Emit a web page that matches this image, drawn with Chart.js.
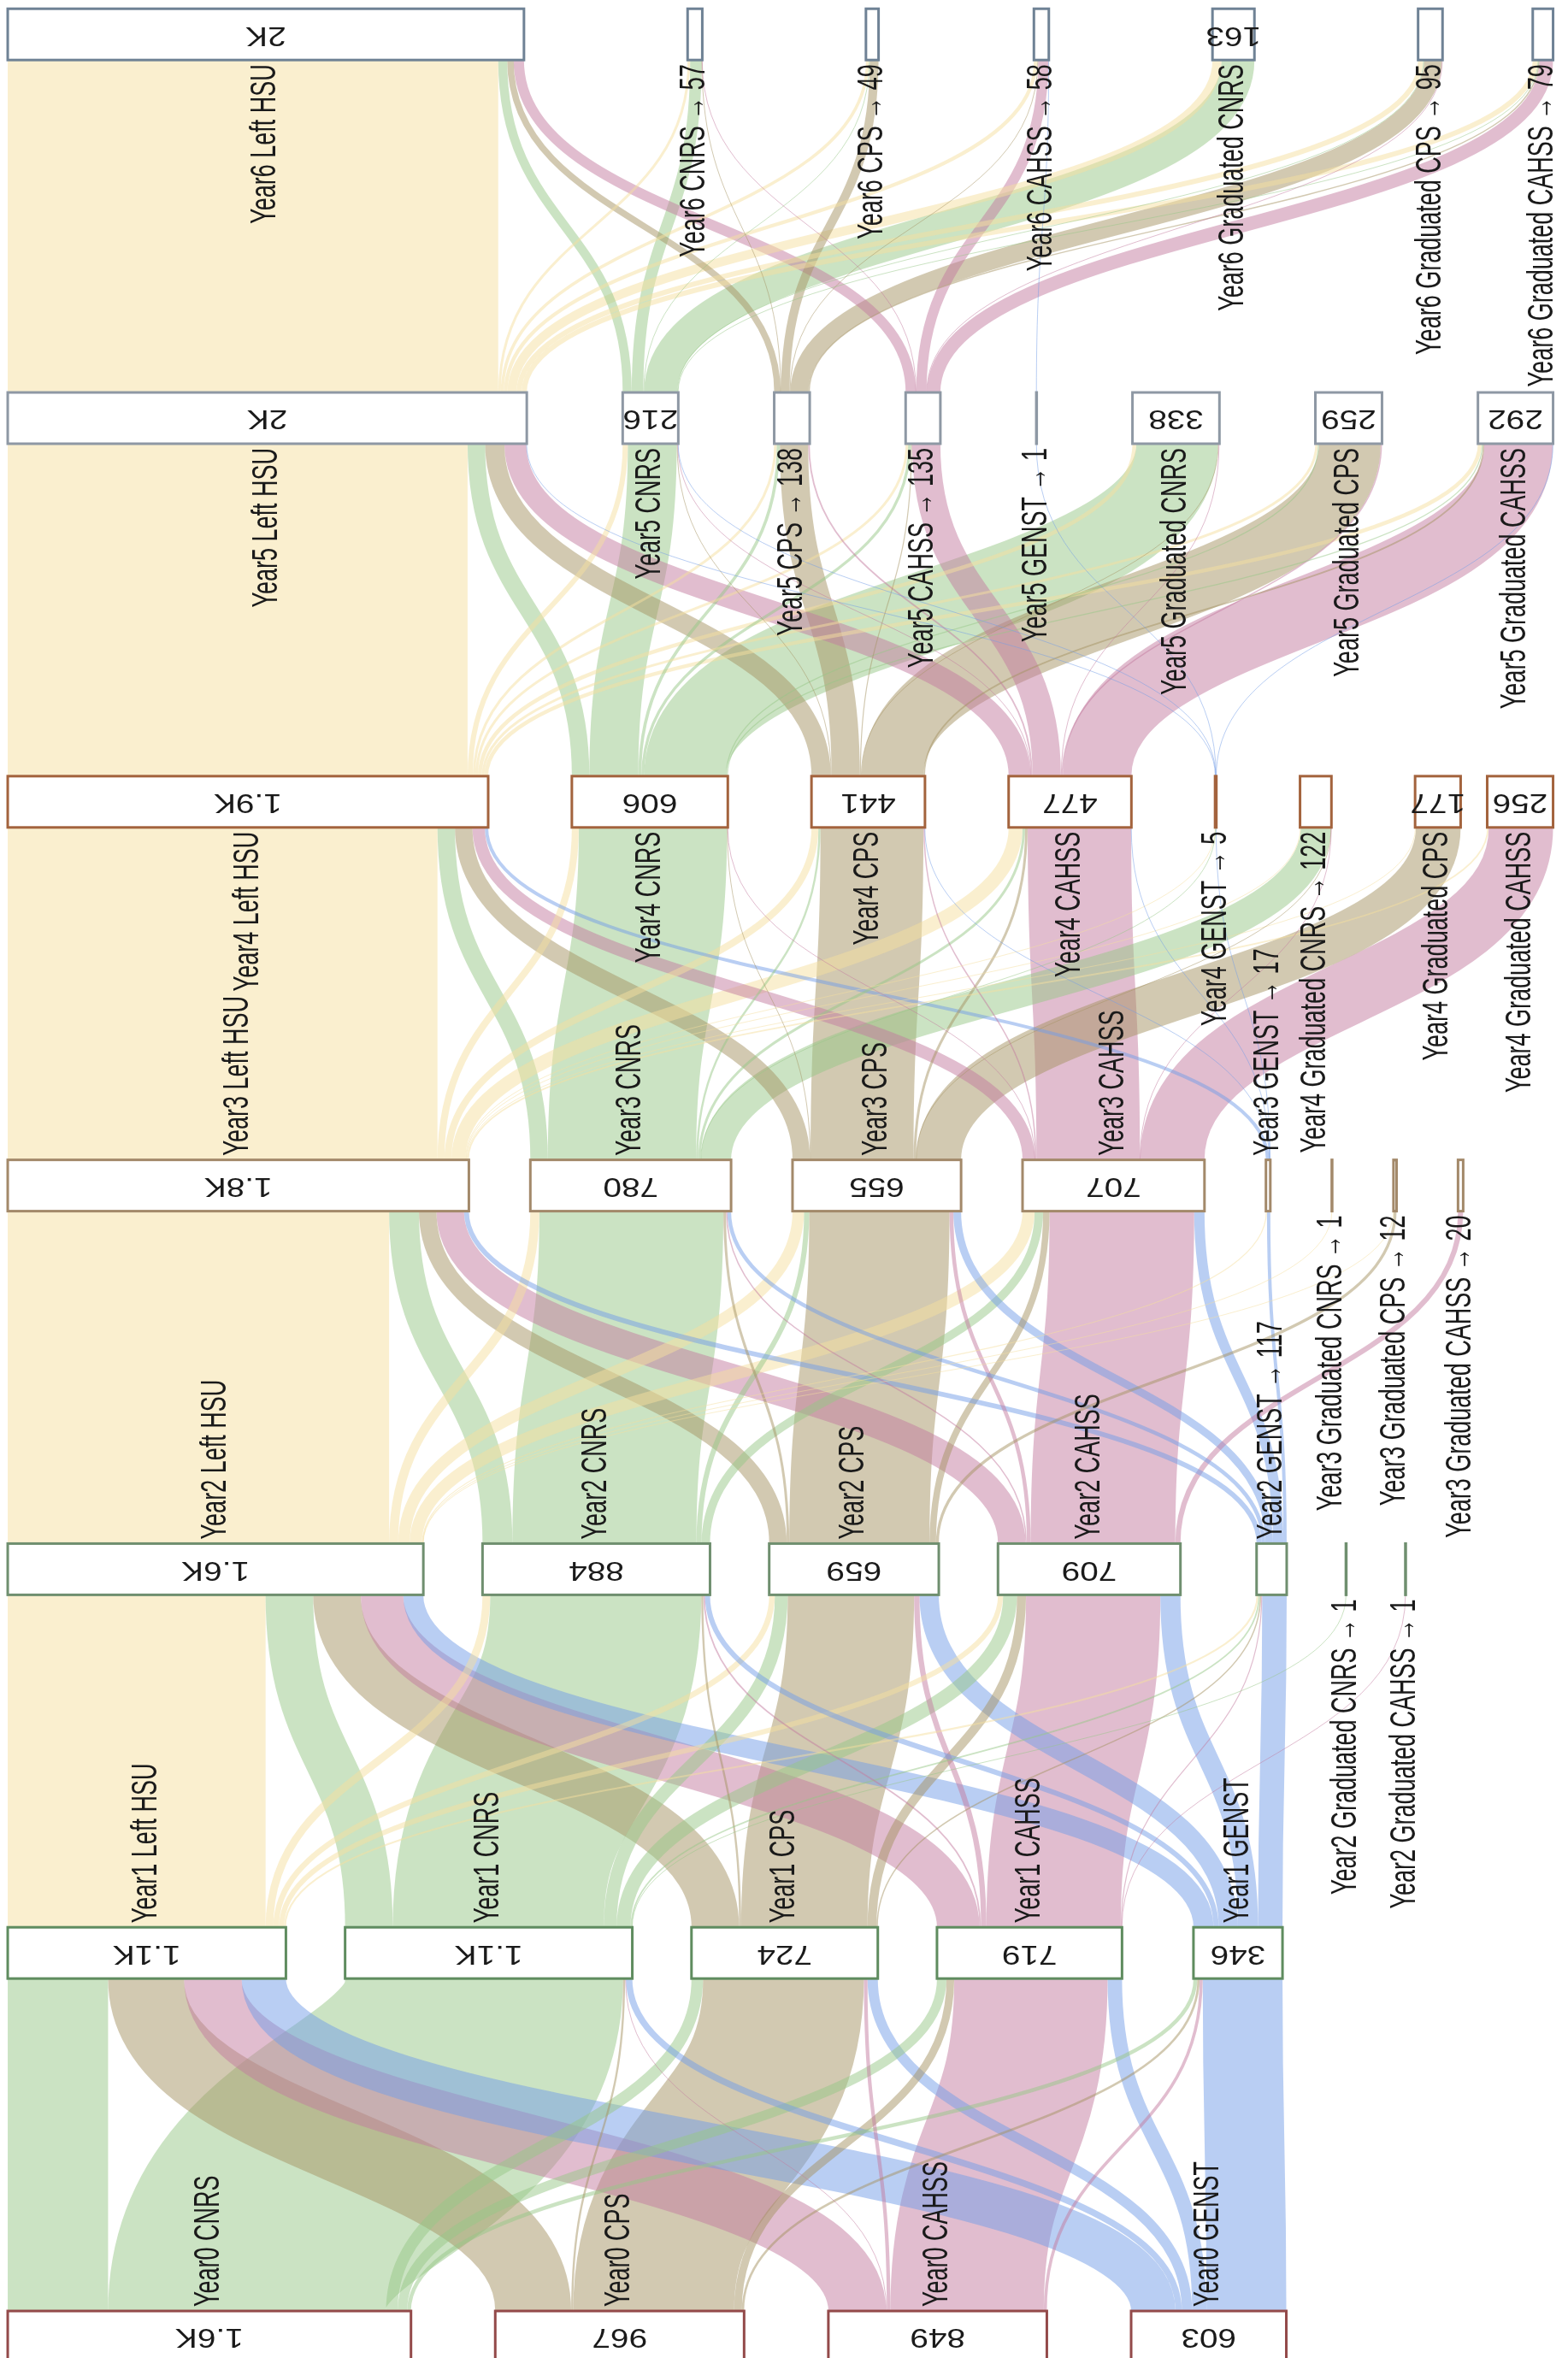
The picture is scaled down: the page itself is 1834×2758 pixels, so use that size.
<!DOCTYPE html>
<html>
<head>
<meta charset="utf-8">
<script src="https://cdn.jsdelivr.net/npm/chart.js@4.4.1/dist/chart.umd.min.js"></script>
<style>
  html, body { margin: 0; padding: 0; background: #ffffff; }
  #wrap { width: 1834px; height: 2758px; position: relative; }
</style>
</head>
<body>
<div id="wrap"><canvas id="chart"></canvas></div>
<script>
// ---------------- DATA ----------------
const levels = ['Year0', 'Year1', 'Year2', 'Year3', 'Year4', 'Year5', 'Year6'];
const categories = ['Left HSU', 'CNRS', 'CPS', 'CAHSS', 'GENST', 'Graduated CNRS', 'Graduated CPS', 'Graduated CAHSS'];

// node totals per year, in category order (null = no node)
const year0Values = [null, 1567, 967, 849, 603, null, null, null];
const year1Values = [1081, 1116, 724, 719, 346, null, null, null];
const year2Values = [1615, 884, 659, 709, 117, 1, null, 1];
const year3Values = [1792, 780, 655, 707, 17, 1, 12, 20];
const year4Values = [1867, 606, 441, 477, 5, 122, 177, 256];
const year5Values = [2017, 216, 138, 135, 1, 338, 259, 292];
const year6Values = [2006, 57, 49, 58, null, 163, 95, 79];

// flows [source category, target category, students]
const flowsYear0to1 = [
  ['CNRS', 'Left HSU', 390], ['CNRS', 'CNRS', 1080], ['CNRS', 'CPS', 45], ['CNRS', 'CAHSS', 37], ['CNRS', 'GENST', 15],
  ['CPS', 'Left HSU', 295], ['CPS', 'CNRS', 8], ['CPS', 'CPS', 625], ['CPS', 'CAHSS', 30], ['CPS', 'GENST', 9],
  ['CAHSS', 'Left HSU', 224], ['CAHSS', 'CNRS', 3], ['CAHSS', 'CPS', 14], ['CAHSS', 'CAHSS', 596], ['CAHSS', 'GENST', 12],
  ['GENST', 'Left HSU', 172], ['GENST', 'CNRS', 25], ['GENST', 'CPS', 40], ['GENST', 'CAHSS', 56], ['GENST', 'GENST', 310]
];
const flowsYear1to2 = [
  ['Left HSU', 'Left HSU', 1002], ['Left HSU', 'CNRS', 30], ['Left HSU', 'CPS', 22], ['Left HSU', 'CAHSS', 20], ['Left HSU', 'GENST', 7],
  ['CNRS', 'Left HSU', 185], ['CNRS', 'CNRS', 820], ['CNRS', 'CPS', 50], ['CNRS', 'CAHSS', 54], ['CNRS', 'GENST', 6], ['CNRS', 'Graduated CNRS', 1],
  ['CPS', 'Left HSU', 185], ['CPS', 'CNRS', 8], ['CPS', 'CPS', 491], ['CPS', 'CAHSS', 35], ['CPS', 'GENST', 5],
  ['CAHSS', 'Left HSU', 165], ['CAHSS', 'CNRS', 6], ['CAHSS', 'CPS', 21], ['CAHSS', 'CAHSS', 522], ['CAHSS', 'GENST', 4], ['CAHSS', 'Graduated CAHSS', 1],
  ['GENST', 'Left HSU', 78], ['GENST', 'CNRS', 20], ['GENST', 'CPS', 75], ['GENST', 'CAHSS', 78], ['GENST', 'GENST', 95]
];
const flowsYear2to3 = [
  ['Left HSU', 'Left HSU', 1482], ['Left HSU', 'CNRS', 35], ['Left HSU', 'CPS', 45], ['Left HSU', 'CAHSS', 47], ['Left HSU', 'GENST', 4], ['Left HSU', 'Graduated CNRS', 1], ['Left HSU', 'Graduated CPS', 1],
  ['CNRS', 'Left HSU', 116], ['CNRS', 'CNRS', 715], ['CNRS', 'CPS', 20], ['CNRS', 'CAHSS', 33],
  ['CPS', 'Left HSU', 68], ['CPS', 'CNRS', 10], ['CPS', 'CPS', 545], ['CPS', 'CAHSS', 25], ['CPS', 'Graduated CPS', 11],
  ['CAHSS', 'Left HSU', 107], ['CAHSS', 'CNRS', 5], ['CAHSS', 'CPS', 15], ['CAHSS', 'CAHSS', 562], ['CAHSS', 'Graduated CAHSS', 20],
  ['GENST', 'Left HSU', 19], ['GENST', 'CNRS', 15], ['GENST', 'CPS', 30], ['GENST', 'CAHSS', 40], ['GENST', 'GENST', 13]
];
const flowsYear3to4 = [
  ['Left HSU', 'Left HSU', 1670], ['Left HSU', 'CNRS', 27], ['Left HSU', 'CPS', 27], ['Left HSU', 'CAHSS', 54], ['Left HSU', 'GENST', 2], ['Left HSU', 'Graduated CNRS', 3], ['Left HSU', 'Graduated CPS', 3], ['Left HSU', 'Graduated CAHSS', 6],
  ['CNRS', 'Left HSU', 68], ['CNRS', 'CNRS', 576], ['CNRS', 'CPS', 8], ['CNRS', 'CAHSS', 10], ['CNRS', 'GENST', 1], ['CNRS', 'Graduated CNRS', 117],
  ['CPS', 'Left HSU', 68], ['CPS', 'CNRS', 2], ['CPS', 'CPS', 400], ['CPS', 'CAHSS', 10], ['CPS', 'Graduated CNRS', 1], ['CPS', 'Graduated CPS', 174],
  ['CAHSS', 'Left HSU', 48], ['CAHSS', 'CNRS', 1], ['CAHSS', 'CPS', 5], ['CAHSS', 'CAHSS', 402], ['CAHSS', 'Graduated CNRS', 1], ['CAHSS', 'Graduated CAHSS', 250],
  ['GENST', 'Left HSU', 13], ['GENST', 'CPS', 1], ['GENST', 'CAHSS', 1], ['GENST', 'GENST', 2]
];
const flowsYear4to5 = [
  ['Left HSU', 'Left HSU', 1787], ['Left HSU', 'CNRS', 20], ['Left HSU', 'CPS', 10], ['Left HSU', 'CAHSS', 10], ['Left HSU', 'Graduated CNRS', 15], ['Left HSU', 'Graduated CPS', 10], ['Left HSU', 'Graduated CAHSS', 15],
  ['CNRS', 'Left HSU', 68], ['CNRS', 'CNRS', 190], ['CNRS', 'CPS', 12], ['CNRS', 'CAHSS', 11], ['CNRS', 'Graduated CNRS', 317], ['CNRS', 'Graduated CPS', 4], ['CNRS', 'Graduated CAHSS', 4],
  ['CPS', 'Left HSU', 75], ['CPS', 'CNRS', 3], ['CPS', 'CPS', 110], ['CPS', 'CAHSS', 4], ['CPS', 'Graduated CNRS', 3], ['CPS', 'Graduated CPS', 240], ['CPS', 'Graduated CAHSS', 6],
  ['CAHSS', 'Left HSU', 85], ['CAHSS', 'CNRS', 2], ['CAHSS', 'CPS', 6], ['CAHSS', 'CAHSS', 110], ['CAHSS', 'Graduated CNRS', 3], ['CAHSS', 'Graduated CPS', 5], ['CAHSS', 'Graduated CAHSS', 266],
  ['GENST', 'Left HSU', 2], ['GENST', 'CNRS', 1], ['GENST', 'GENST', 1], ['GENST', 'Graduated CAHSS', 1]
];
const flowsYear5to6 = [
  ['Left HSU', 'Left HSU', 1906], ['Left HSU', 'CNRS', 10], ['Left HSU', 'CPS', 12], ['Left HSU', 'CAHSS', 14], ['Left HSU', 'Graduated CNRS', 35], ['Left HSU', 'Graduated CPS', 20], ['Left HSU', 'Graduated CAHSS', 20],
  ['CNRS', 'Left HSU', 35], ['CNRS', 'CNRS', 45], ['CNRS', 'CPS', 3], ['CNRS', 'Graduated CNRS', 128], ['CNRS', 'Graduated CPS', 3], ['CNRS', 'Graduated CAHSS', 2],
  ['CPS', 'Left HSU', 25], ['CPS', 'CNRS', 1], ['CPS', 'CPS', 34], ['CPS', 'CAHSS', 3], ['CPS', 'Graduated CPS', 70], ['CPS', 'Graduated CAHSS', 5],
  ['CAHSS', 'Left HSU', 40], ['CAHSS', 'CNRS', 1], ['CAHSS', 'CAHSS', 40], ['CAHSS', 'Graduated CPS', 2], ['CAHSS', 'Graduated CAHSS', 52],
  ['GENST', 'CAHSS', 1]
];

// ---------------- STYLE / LAYOUT PARAMETERS ----------------
const yearValues = [year0Values, year1Values, year2Values, year3Values, year4Values, year5Values, year6Values];
const yearFlows = [flowsYear0to1, flowsYear1to2, flowsYear2to3, flowsYear3to4, flowsYear4to5, flowsYear5to6];

const X_MIN = -30, X_MAX = 6063;          // value-unit axis (breadth)
const Y_MIN = -0.0557, Y_MAX = 6.0896;    // level axis
const EXTENT = 6005, PAD = 230, ITERATIONS = 6, MIN_GAP = 80;
const RELAX_WEIGHT = [0.78, 1, 1, 0.85, -0.5, 0, -0.15];   // how strongly each year follows the relaxed layout
const NODE_HALF = 0.0668;
const VALUE_LIMIT = 150;                  // below this the value goes into the label

const linkColors = ['rgba(245,224,160,0.5)', 'rgba(152,199,136,0.5)', 'rgba(166,148,100,0.5)', 'rgba(196,124,160,0.5)', 'rgba(116,158,231,0.5)'];
const borderColors = ['#934a4a', '#5f8c5f', '#6f8f6f', '#a3896a', '#a3633d', '#8e98a4', '#6f8295'];
const LABEL_FONT = '27px "Liberation Sans", Arial, sans-serif';
const VALUE_FONT = '31px "Liberation Sans", Arial, sans-serif';
const LABEL_SX = 1.55, VALUE_SX = 1.25;
const LABEL_GAP = 5;

// ---------------- SANKEY LAYOUT (d3-sankey style relaxation) ----------------
function buildSankey() {
  const columns = yearValues.map((vals, L) => {
    const col = [];
    vals.forEach((v, c) => { if (v !== null) col.push({ level: L, cat: c, value: v, sourceLinks: [], targetLinks: [] }); });
    return col;
  });
  const links = [];
  yearFlows.forEach((flows, L) => {
    flows.forEach(([s, t, v]) => {
      const source = columns[L].find(n => categories[n.cat] === s);
      const target = columns[L + 1].find(n => categories[n.cat] === t);
      if (!source || !target) return;
      const link = { source, target, value: v, width: v };
      source.sourceLinks.push(link);
      target.targetLinks.push(link);
      links.push(link);
    });
  });
  const py = PAD, y0 = 0, y1 = EXTENT;
  const byBreadth = (a, b) => a.y0 - b.y0;
  function reorderLinks(nodes) {
    for (const n of nodes) {
      n.sourceLinks.sort((a, b) => byBreadth(a.target, b.target));
      n.targetLinks.sort((a, b) => byBreadth(a.source, b.source));
    }
  }
  function reorderNodeLinks(node) {
    for (const l of node.targetLinks) l.source.sourceLinks.sort((a, b) => byBreadth(a.target, b.target));
    for (const l of node.sourceLinks) l.target.targetLinks.sort((a, b) => byBreadth(a.source, b.source));
  }
  function targetTop(source, target) {
    let y = source.y0 - (source.sourceLinks.length - 1) * py / 2;
    for (const l of source.sourceLinks) { if (l.target === target) break; y += l.width + py; }
    for (const l of target.targetLinks) { if (l.source === source) break; y -= l.width; }
    return y;
  }
  function sourceTop(source, target) {
    let y = target.y0 - (target.targetLinks.length - 1) * py / 2;
    for (const l of target.targetLinks) { if (l.source === source) break; y += l.width + py; }
    for (const l of source.sourceLinks) { if (l.target === target) break; y -= l.width; }
    return y;
  }
  function collideDown(nodes, y, i, alpha, gap) {
    for (; i < nodes.length; ++i) {
      const n = nodes[i];
      const dy = (y - n.y0) * alpha;
      if (dy > 1e-6) { n.y0 += dy; n.y1 += dy; }
      y = n.y1 + gap;
    }
  }
  function collideUp(nodes, y, i, alpha, gap) {
    for (; i >= 0; --i) {
      const n = nodes[i];
      const dy = (n.y1 - y) * alpha;
      if (dy > 1e-6) { n.y0 -= dy; n.y1 -= dy; }
      y = n.y0 - gap;
    }
  }
  function resolveCollisions(nodes, alpha, gap) {
    const i = nodes.length >> 1;
    const subject = nodes[i];
    collideUp(nodes, subject.y0 - gap, i - 1, alpha, gap);
    collideDown(nodes, subject.y1 + gap, i + 1, alpha, gap);
    collideUp(nodes, y1, nodes.length - 1, alpha, gap);
    collideDown(nodes, y0, 0, alpha, gap);
  }
  // evenly spread start positions (first node at 0, last node ending at the extent)
  for (const nodes of columns) {
    const total = nodes.reduce((s, n) => s + n.value, 0);
    const gap = (y1 - y0 - total) / Math.max(1, nodes.length - 1);
    let y = y0;
    for (const n of nodes) { n.spread0 = y; y += n.value + gap; }
  }
  // d3-sankey initial breadths
  for (const nodes of columns) {
    let y = y0;
    for (const n of nodes) { n.y0 = y; n.y1 = y + n.value; y = n.y1 + py; }
    const extra = (y1 - y + py) / (nodes.length + 1);
    nodes.forEach((n, i) => { n.y0 += extra * (i + 1); n.y1 += extra * (i + 1); });
    reorderLinks(nodes);
  }
  for (let it = 0; it < ITERATIONS; ++it) {
    const alpha = Math.pow(0.99, it);
    const beta = Math.max(1 - alpha, (it + 1) / ITERATIONS);
    for (let i = columns.length - 2; i >= 0; --i) {
      for (const source of columns[i]) {
        let y = 0, w = 0;
        for (const l of source.sourceLinks) { y += sourceTop(source, l.target) * l.value; w += l.value; }
        if (!(w > 0)) continue;
        const dy = (y / w - source.y0) * alpha;
        source.y0 += dy; source.y1 += dy;
        reorderNodeLinks(source);
      }
      resolveCollisions(columns[i], beta, py);
    }
    for (let i = 1; i < columns.length; ++i) {
      for (const target of columns[i]) {
        let y = 0, w = 0;
        for (const l of target.targetLinks) { y += targetTop(l.source, target) * l.value; w += l.value; }
        if (!(w > 0)) continue;
        const dy = (y / w - target.y0) * alpha;
        target.y0 += dy; target.y1 += dy;
        reorderNodeLinks(target);
      }
      resolveCollisions(columns[i], beta, py);
    }
  }
  // blend the relaxed layout with the even spread, year by year
  columns.forEach((nodes, L) => {
    const w = RELAX_WEIGHT[L];
    for (const n of nodes) {
      n.y0 = n.spread0 + w * (n.y0 - n.spread0);
      n.y1 = n.y0 + n.value;
    }
    resolveCollisions(nodes, 1, MIN_GAP);
  });
  for (const nodes of columns) reorderLinks(nodes);
  for (const nodes of columns) for (const n of nodes) {
    let s = n.y0, t = n.y0;
    for (const l of n.sourceLinks) { l.s0 = s; s += l.width; }
    for (const l of n.targetLinks) { l.t0 = t; t += l.width; }
  }
  return { columns, links };
}

const graph = buildSankey();

function formatValue(v) {
  if (v >= 1000) return parseFloat((v / 1000).toPrecision(2)) + 'K';
  return String(v);
}

function drawText(ctx, text, x, y, angle, align, sx, font) {
  ctx.save();
  ctx.translate(x, y);
  ctx.scale(sx, 1);
  ctx.rotate(angle);
  ctx.font = font;
  ctx.textAlign = align;
  ctx.textBaseline = 'middle';
  ctx.fillStyle = '#1a1a1a';
  ctx.fillText(text, 0, 0);
  ctx.restore();
}

const sankeyPlugin = {
  id: 'sankeyDraw',
  beforeDatasetsDraw(chart) {
    const ctx = chart.ctx;
    const xs = chart.scales.x, ys = chart.scales.y;
    const X = u => xs.getPixelForValue(u);
    const Y = v => ys.getPixelForValue(v);
    ctx.save();
    // links
    const sorted = graph.links.slice().sort((a, b) => b.value - a.value);
    for (const l of sorted) {
      const L = l.source.level;
      const ySrc = Y(L + NODE_HALF);
      const yTgt = Y(L + 1 - NODE_HALF);
      const ym = (ySrc + yTgt) / 2;
      const xs0 = X(l.s0 + l.width / 2);
      const xt0 = X(l.t0 + l.width / 2);
      const w = Math.max(1, X(l.width) - X(0));
      ctx.beginPath();
      ctx.moveTo(xs0, ySrc);
      ctx.bezierCurveTo(xs0, ym, xt0, ym, xt0, yTgt);
      ctx.strokeStyle = linkColors[l.source.cat];
      ctx.lineWidth = w;
      ctx.lineCap = 'butt';
      ctx.stroke();
    }
    // nodes
    for (const nodes of graph.columns) for (const n of nodes) {
      const L = n.level;
      const x0 = X(n.y0), x1 = X(n.y1);
      const top = Y(L + NODE_HALF), bot = Y(L - NODE_HALF);
      ctx.fillStyle = '#ffffff';
      ctx.fillRect(x0, top, x1 - x0, bot - top);
      ctx.strokeStyle = borderColors[L];
      ctx.lineWidth = 3;
      ctx.strokeRect(x0, top, Math.max(x1 - x0, 0.5), bot - top);
    }
    // labels
    const half = levels.length / 2;
    for (const nodes of graph.columns) for (const n of nodes) {
      const L = n.level;
      const cx = X((n.y0 + n.y1) / 2);
      const top = Y(L + NODE_HALF), bot = Y(L - NODE_HALF);
      let label = levels[L] + ' ' + categories[n.cat];
      if (n.value < VALUE_LIMIT) label += ' \u2192 ' + n.value;
      else drawText(ctx, formatValue(n.value), cx, (top + bot) / 2, Math.PI, 'center', VALUE_SX, VALUE_FONT);
      const towardNext = L < half && n.sourceLinks.length > 0;
      if (towardNext) drawText(ctx, label, cx, top - LABEL_GAP, -Math.PI / 2, 'left', LABEL_SX, LABEL_FONT);
      else drawText(ctx, label, cx, bot + LABEL_GAP, -Math.PI / 2, 'right', LABEL_SX, LABEL_FONT);
    }
    ctx.restore();
  }
};

const nodePoints = graph.columns.flat().map(n => ({ x: (n.y0 + n.y1) / 2, y: n.level }));

new Chart(document.getElementById('chart'), {
  type: 'scatter',
  data: { datasets: [{ data: nodePoints, pointRadius: 0, pointHoverRadius: 0, showLine: false }] },
  options: {
    responsive: true,
    maintainAspectRatio: false,
    animation: false,
    devicePixelRatio: 1,
    events: [],
    layout: { padding: 0 },
    plugins: { legend: { display: false }, tooltip: { enabled: false } },
    scales: {
      x: { type: 'linear', min: X_MIN, max: X_MAX, display: false },
      y: { type: 'linear', min: Y_MIN, max: Y_MAX, display: false }
    }
  },
  plugins: [sankeyPlugin]
});
</script>
</body>
</html>
